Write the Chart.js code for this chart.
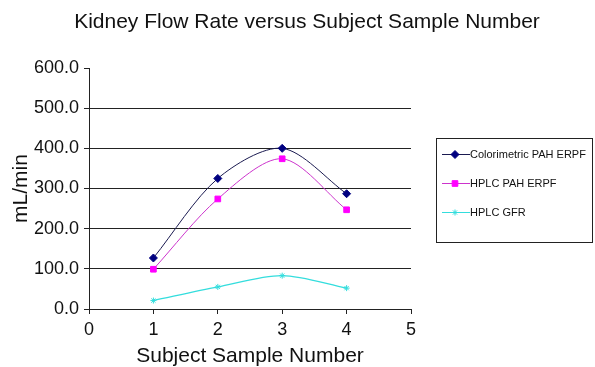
<!DOCTYPE html>
<html>
<head>
<meta charset="utf-8">
<script src="https://cdn.jsdelivr.net/npm/chart.js@4/dist/chart.umd.min.js"></script>
<style>
  html, body { margin: 0; padding: 0; background: #fff; }
  #wrap { width: 595px; height: 367px; position: relative; }
</style>
</head>
<body>
<div id="wrap"><canvas id="c" width="595" height="367"></canvas></div>
<script>
const chartTitle = "Kidney Flow Rate versus Subject Sample Number";
const xAxisTitle = "Subject Sample Number";
const yAxisTitle = "mL/min";
const samples = [1, 2, 3, 4];
const colorimetricPAH = [127, 325, 400, 287];
const hplcPAH = [99, 274, 374, 247];
const hplcGFR = [21, 55, 83, 52];
const seriesNames = ["Colorimetric PAH ERPF", "HPLC PAH ERPF", "HPLC GFR"];

const FONT = "'Liberation Sans', Arial, sans-serif";

function pts(vals) { return samples.map((x, i) => ({ x: x, y: vals[i] })); }

const titleLegendPlugin = {
  id: 'titleLegend',
  afterDraw(chart) {
    const ctx = chart.ctx;
    const ds = chart.data.datasets;
    ctx.save();
    ctx.fillStyle = '#111';
    ctx.font = "21px " + FONT;
    ctx.textAlign = 'center';
    ctx.textBaseline = 'middle';
    ctx.fillText(chartTitle, 307, 22);
    ctx.strokeStyle = '#222';
    ctx.lineWidth = 1;
    ctx.strokeRect(436.5, 138.5, 156, 104);
    const ys = [154, 183, 212];
    ds.forEach((d, i) => {
      const y = ys[i];
      ctx.strokeStyle = d.borderColor;
      ctx.lineWidth = 1;
      ctx.beginPath();
      ctx.moveTo(442, y + 0.5);
      ctx.lineTo(470, y + 0.5);
      ctx.stroke();
      ctx.fillStyle = d.pointBackgroundColor;
      ctx.strokeStyle = d.pointBorderColor;
      ctx.lineWidth = d.pointBorderWidth;
      Chart.helpers.drawPoint(ctx, { pointStyle: d.pointStyle, radius: d.pointRadius, borderWidth: d.pointBorderWidth, rotation: 0 }, 455, y + 0.5);
      ctx.fillStyle = '#111';
      ctx.font = "11px " + FONT;
      ctx.textAlign = 'left';
      ctx.textBaseline = 'middle';
      ctx.fillText(d.label, 470, y + 1);
    });
    ctx.restore();
  }
};

new Chart(document.getElementById('c'), {
  type: 'line',
  data: {
    datasets: [
      {
        label: seriesNames[0],
        data: pts(colorimetricPAH),
        borderColor: '#1a1a50',
        borderWidth: 1,
        pointStyle: 'rectRot',
        pointRadius: 4,
        pointBackgroundColor: '#000080',
        pointBorderColor: '#000080',
        pointBorderWidth: 1,
        tension: 0.3
      },
      {
        label: seriesNames[1],
        data: pts(hplcPAH),
        borderColor: '#cc33cc',
        borderWidth: 1,
        pointStyle: 'rect',
        pointRadius: 4,
        pointBackgroundColor: '#ff00ff',
        pointBorderColor: '#ff00ff',
        pointBorderWidth: 1,
        tension: 0.3
      },
      {
        label: seriesNames[2],
        data: pts(hplcGFR),
        borderColor: '#33dddd',
        borderWidth: 1.3,
        pointStyle: 'star',
        pointRadius: 3,
        pointBackgroundColor: '#33dddd',
        pointBorderColor: '#33dddd',
        pointBorderWidth: 1,
        tension: 0.3
      }
    ]
  },
  options: {
    responsive: false,
    animation: false,
    devicePixelRatio: 1,
    layout: { padding: { left: 0, right: 184, top: 68, bottom: 0 } },
    plugins: {
      legend: { display: false },
      title: { display: false },
      tooltip: { enabled: false }
    },
    scales: {
      x: {
        type: 'linear',
        min: 0, max: 5,
        ticks: { stepSize: 1, color: '#111', font: { family: FONT, size: 18 }, padding: 5, maxRotation: 0 },
        grid: { drawOnChartArea: false, tickLength: 5, tickColor: '#222' },
        border: { display: true, color: '#222', width: 1 },
        title: { display: true, text: xAxisTitle, color: '#111', font: { family: FONT, size: 21 }, padding: { top: 0, bottom: -2 } },
        afterFit(scale) { scale.height = 58; }
      },
      y: {
        min: 0, max: 600,
        ticks: { stepSize: 100, color: '#111', font: { family: FONT, size: 18 }, padding: 5,
          callback: v => Number(v).toFixed(1) },
        grid: {
          tickLength: 5, tickColor: '#222',
          color: c => (c.tick && c.tick.value > 0 && c.tick.value < 600) ? '#222' : 'rgba(0,0,0,0)'
        },
        border: { display: true, color: '#222', width: 1 },
        title: { display: true, text: yAxisTitle, color: '#111', font: { family: FONT, size: 21 }, padding: { top: 9, bottom: 0 } },
        afterFit(scale) { scale.width = 89; }
      }
    }
  },
  plugins: [titleLegendPlugin]
});
</script>
</body>
</html>
